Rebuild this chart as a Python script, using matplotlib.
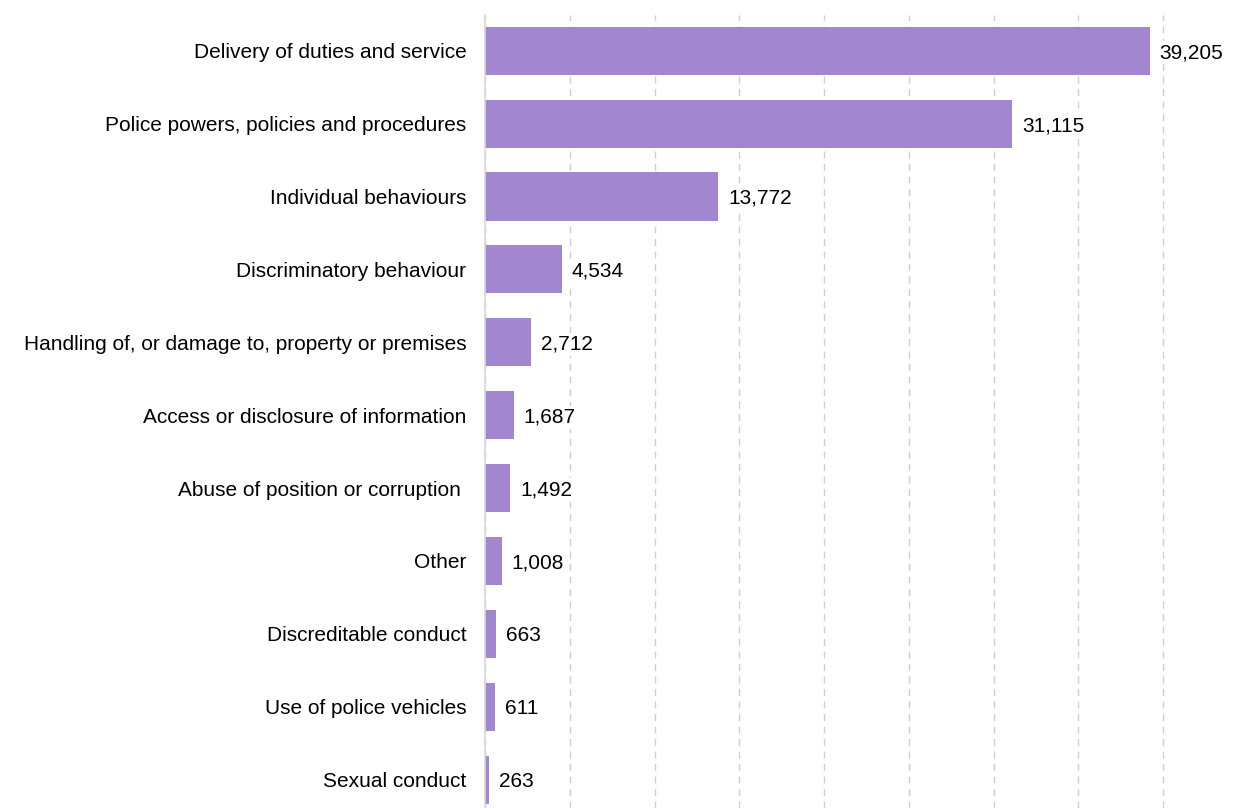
import matplotlib
matplotlib.use("Agg")
import matplotlib.pyplot as plt
import numpy as np

plt.rcParams.update({
    "font.family": ["Liberation Sans", "DejaVu Sans"],
    "font.size": 15,
})

# complaint categories and counts
CATEGORIES = [
    "Delivery of duties and service",
    "Police powers, policies and procedures",
    "Individual behaviours",
    "Discriminatory behaviour",
    "Handling of, or damage to, property or premises",
    "Access or disclosure of information",
    "Abuse of position or corruption ",
    "Other",
    "Discreditable conduct",
    "Use of police vehicles",
    "Sexual conduct",
]
COUNTS = [39205, 31115, 13772, 4534, 2712, 1687, 1492, 1008, 663, 611, 263]
XTICKS = np.arange(0, 40001, 5000)

BAR_COLOR = "#A386D0"
GRID_COLOR = "#CFCFCF"

fig = plt.figure(figsize=(12.4, 8.08), dpi=100)
ax = fig.add_axes([485 / 1240, 0.0, (1163 - 485) / 1240, 1 - 15 / 808])

y = np.arange(len(CATEGORIES))
ax.barh(y, COUNTS, height=0.66, color=BAR_COLOR, zorder=3)

for yi, v in zip(y, COUNTS):
    ax.annotate(f"{v:,}", xy=(v, yi), xytext=(7, 0), textcoords="offset points",
                ha="left", va="center_baseline", fontsize=15, color="black",
                annotation_clip=False, zorder=5,
                bbox=dict(facecolor="white", edgecolor="none", pad=1.5))

ax.set_xlim(0, 40000)
ax.set_ylim(len(CATEGORIES) - 1 + 0.39, -0.49)
ax.set_xticks(XTICKS)
ax.set_xticklabels([])
ax.tick_params(axis="x", length=0)
ax.set_yticks(y)
ax.set_yticklabels(CATEGORIES)
ax.tick_params(axis="y", length=0, pad=13.5)

ax.grid(axis="x", color=GRID_COLOR, linestyle=(0, (5, 4)), linewidth=1.0, zorder=0)
ax.grid(axis="y", visible=False)
for gl in ax.get_xgridlines():
    gl.set_clip_on(False)
for s in ["top", "right", "bottom"]:
    ax.spines[s].set_visible(False)
ax.spines["left"].set_color("#D9D9D9")
ax.spines["left"].set_linewidth(1.2)
ax.spines["left"].set_zorder(4)

fig.savefig("out.png", dpi=100)
